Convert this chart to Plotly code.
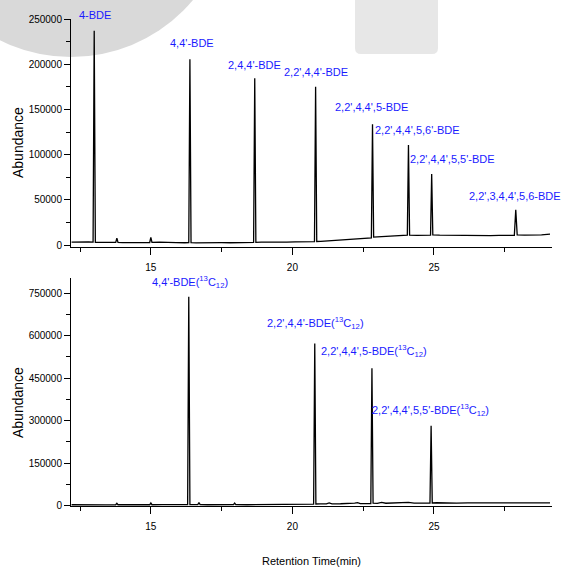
import plotly.graph_objects as go

# ---- data ----
t_top = [12.20, 12.40, 12.60, 12.80, 12.96, 13.00, 13.04, 13.20, 13.40, 13.60, 13.76, 13.80, 13.84,
         14.00, 14.30, 14.60, 14.96, 15.00, 15.04, 15.30, 15.60, 15.90, 16.20, 16.34, 16.38, 16.42,
         16.60, 16.90, 17.20, 17.50, 17.80, 18.10, 18.40, 18.63, 18.67, 18.71, 18.90, 19.20, 19.50,
         19.80, 20.10, 20.40, 20.60, 20.78, 20.82, 20.86, 21.00, 21.30, 21.60, 21.90, 22.20, 22.50,
         22.79, 22.83, 22.87, 23.00, 23.30, 23.60, 23.90, 24.06, 24.10, 24.14, 24.40, 24.70, 24.88,
         24.92, 24.96, 25.20, 25.50, 25.80, 26.10, 26.40, 26.70, 27.00, 27.30, 27.60, 27.84, 27.89,
         27.94, 28.20, 28.50, 28.80, 29.10]
abund_top = [3300, 3600, 3200, 3500, 3300, 237000, 3000, 2800, 3100, 2700, 2900, 7500, 2800,
             2600, 2900, 2500, 2800, 8500, 2900, 3300, 2700, 2600, 2500, 2600, 205500, 2600,
             2400, 2700, 2300, 2600, 2500, 2800, 2600, 2900, 184500, 3000, 3100, 2900, 3300,
             3200, 3500, 3400, 3800, 3700, 175000, 3900, 4000, 4700, 5500, 6200, 7000, 7600,
             8000, 133500, 8800, 9000, 9600, 10200, 10600, 10800, 110500, 11000, 10600, 11200, 11000,
             78500, 11300, 11000, 10800, 10500, 10800, 10400, 10600, 10300, 10700, 10500, 10800, 39000,
             11200, 11000, 10900, 11300, 12000]

t_bot = [12.20, 12.50, 12.80, 13.10, 13.40, 13.76, 13.80, 13.84, 14.20, 14.60, 14.96, 15.00, 15.04,
         15.40, 15.80, 16.10, 16.30, 16.34, 16.38, 16.50, 16.66, 16.70, 16.74, 17.00, 17.40, 17.92,
         17.96, 18.00, 18.40, 18.80, 19.10, 19.30, 19.50, 19.70, 19.90, 20.10, 20.40, 20.60, 20.75,
         20.79, 20.83, 21.00, 21.20, 21.30, 21.40, 21.70, 22.00, 22.20, 22.30, 22.40, 22.60, 22.77,
         22.81, 22.85, 23.00, 23.15, 23.30, 23.60, 23.90, 24.10, 24.30, 24.60, 24.86, 24.90, 24.94,
         25.10, 25.40, 25.80, 26.20, 26.60, 27.00, 27.40, 27.80, 28.20, 28.60, 29.10]
abund_bot = [3000, 3500, 2500, 3200, 2800, 3000, 8000, 3000, 2700, 3100, 2900, 9000, 3000,
             3200, 2800, 3000, 3100, 738000, 3200, 3500, 3300, 11000, 3400, 3000, 3300, 3200,
             9000, 3100, 2900, 3400, 3800, 5500, 4200, 5000, 4500, 4800, 5200, 5000, 5400,
             573000, 5600, 6000, 6200, 9500, 6300, 6500, 6800, 9000, 10500, 7000, 7200, 7000,
             485000, 8500, 8000, 11000, 8200, 8500, 8800, 11500, 8600, 8800, 8700, 282000, 9200,
             10000, 8800, 9000, 9500, 9200, 9000, 9300, 9000, 9400, 9100, 9500]

labels_top = ["4-BDE", "4,4'-BDE", "2,4,4'-BDE", "2,2',4,4'-BDE", "2,2',4,4',5-BDE",
              "2,2',4,4',5,6'-BDE", "2,2',4,4',5,5'-BDE", "2,2',3,4,4',5,6-BDE"]
labels_bot = ["4,4'-BDE", "2,2',4,4'-BDE", "2,2',4,4',5-BDE", "2,2',4,4',5,5'-BDE"]

x_ticks = [15, 20, 25]
y_ticks_top = [0, 50000, 100000, 150000, 200000, 250000]
y_ticks_bot = [0, 150000, 300000, 450000, 600000, 750000]

# ---- layout helpers (pixel positions of the reference -> paper coords) ----
L, R, T, B, W, H = 71, 15, 19, 63, 567, 569
PW, PH = W - L - R, H - T - B


def px(xp):
    return (xp - L) / PW


def py(yp):
    return (H - B - yp) / PH


# label centres measured in the reference (pixels)
lab_top_pos = [(95, 15), (192, 43), (254.5, 65), (315.5, 72.3), (371, 106.7), (417, 130),
               (452, 159), (515, 196)]
lab_bot_pos = [(190, 282), (315.5, 323), (373.5, 350.5), (430.5, 409.5)]

TICKFONT = dict(family="Liberation Sans, Arial, sans-serif", size=10, color="black")
LABFONT = dict(family="Liberation Sans, Arial, sans-serif", size=11, color="#1a1aff")
TITLEFONT = dict(family="Liberation Sans, Arial, sans-serif", size=14, color="black")

fig = go.Figure()
fig.add_trace(go.Scatter(x=t_top, y=abund_top, mode="lines", line=dict(color="black", width=1.3),
                         xaxis="x", yaxis="y", showlegend=False, hoverinfo="skip"))
fig.add_trace(go.Scatter(x=t_bot, y=abund_bot, mode="lines", line=dict(color="black", width=1.3),
                         xaxis="x2", yaxis="y2", showlegend=False, hoverinfo="skip"))

xcommon = dict(range=[12.18, 29.17], tickvals=x_ticks, ticktext=[str(v) for v in x_ticks],
               showline=True, linecolor="black", linewidth=1, ticks="outside", ticklen=7,
               tickwidth=1, tickcolor="black", showgrid=False, zeroline=False, tickfont=TICKFONT,
               ticklabelstandoff=4,
               minor=dict(ticks="outside", ticklen=4, tickwidth=1, tickcolor="black",
                          tickvals=[12.5, 17.5, 22.5, 27.5], showgrid=False),
               automargin=False)
ycommon = dict(showline=True, linecolor="black", linewidth=1, ticks="outside", ticklen=6,
               tickwidth=1, tickcolor="black", showgrid=False, zeroline=False, tickfont=TICKFONT,
               automargin=False)

fig.update_layout(
    width=W, height=H,
    margin=dict(l=L, r=R, t=T, b=B, pad=0),
    paper_bgcolor="white", plot_bgcolor="rgba(0,0,0,0)",
    xaxis=dict(anchor="y", domain=[0, 1], **xcommon),
    yaxis=dict(anchor="x", domain=[py(247), 1.0], range=[-2200, 250000], tickvals=y_ticks_top,
               ticktext=[str(v) for v in y_ticks_top],
               minor=dict(ticks="outside", ticklen=4, tickwidth=1, tickcolor="black",
                          dtick=25000, showgrid=False), **ycommon),
    xaxis2=dict(anchor="y2", domain=[0, 1], **xcommon),
    yaxis2=dict(anchor="x2", domain=[0, py(278)], range=[-1500, 804000], tickvals=y_ticks_bot,
                ticktext=[str(v) for v in y_ticks_bot],
                minor=dict(ticks="outside", ticklen=4, tickwidth=1, tickcolor="black",
                           dtick=75000, showgrid=False), **ycommon),
)

# background watermark shapes
fig.add_shape(type="circle", xref="paper", yref="paper", x0=px(-88), x1=px(230), y0=py(57),
              y1=py(-261), fillcolor="#d9d9d9", line=dict(width=0), layer="below")
r_x, r_y = 6 / PW, 6 / PH
x0, x1, yb, yt = px(355), px(438), py(54), py(-10)
path = (f"M {x0},{yt} L {x0},{yb + r_y} Q {x0},{yb} {x0 + r_x},{yb} "
        f"L {x1 - r_x},{yb} Q {x1},{yb} {x1},{yb + r_y} L {x1},{yt} Z")
fig.add_shape(type="path", xref="paper", yref="paper", path=path, fillcolor="#e7e7e7",
              line=dict(width=0), layer="below")

for txt, (xp, yp) in zip(labels_top, lab_top_pos):
    fig.add_annotation(text=txt, x=px(xp), y=py(yp), xref="paper", yref="paper", showarrow=False,
                       font=LABFONT, xanchor="center", yanchor="middle")
for txt, (xp, yp) in zip(labels_bot, lab_bot_pos):
    fig.add_annotation(text=txt + "(<sup>13</sup>C<sub>12</sub>)", x=px(xp), y=py(yp),
                       xref="paper", yref="paper", showarrow=False, font=LABFONT,
                       xanchor="center", yanchor="middle")

# axis titles
fig.add_annotation(text="Abundance", x=px(18), y=py(143), xref="paper", yref="paper",
                   textangle=-90, showarrow=False, font=TITLEFONT, xanchor="center", yanchor="middle")
fig.add_annotation(text="Abundance", x=px(18), y=py(403), xref="paper", yref="paper",
                   textangle=-90, showarrow=False, font=TITLEFONT, xanchor="center", yanchor="middle")
fig.add_annotation(text="Retention Time(min)", x=px(311.5), y=py(561), xref="paper", yref="paper",
                   showarrow=False, font=dict(TITLEFONT, size=11),
                   xanchor="center", yanchor="middle")

fig.write_html("out.html", config={"displayModeBar": False},
               post_script="document.body.style.margin='0px';document.body.style.padding='0px';")
